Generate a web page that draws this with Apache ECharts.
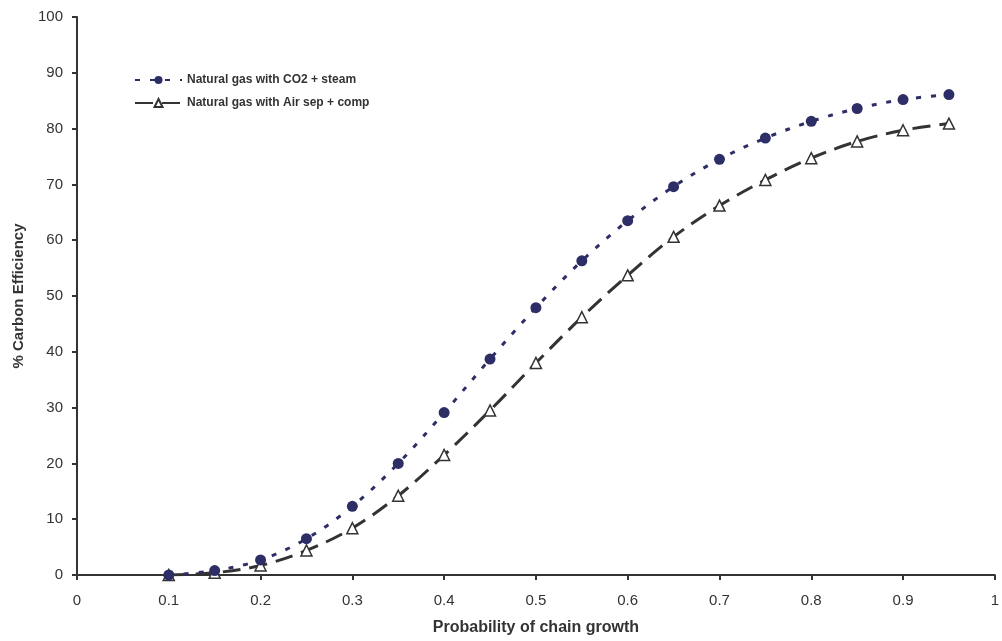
<!DOCTYPE html>
<html>
<head>
<meta charset="utf-8">
<script src="https://cdn.jsdelivr.net/npm/echarts@6/dist/echarts.min.js"></script>
<style>
  html, body { margin: 0; padding: 0; background: #fff; }
  #chart { width: 1002px; height: 641px; }
</style>
</head>
<body>
<div id="chart"></div>
<script>
// Chain growth probability (x) vs carbon efficiency (%)
const alpha = [0.1, 0.15, 0.2, 0.25, 0.3, 0.35, 0.4, 0.45, 0.5, 0.55, 0.6, 0.65, 0.7, 0.75, 0.8, 0.85, 0.9, 0.95];
const co2Steam = [0, 0.8, 2.7, 6.5, 12.3, 20.0, 29.1, 38.7, 47.9, 56.3, 63.5, 69.6, 74.5, 78.3, 81.3, 83.6, 85.2, 86.1];
const airSepComp = [0, 0.4, 1.7, 4.4, 8.4, 14.2, 21.5, 29.5, 38.0, 46.2, 53.7, 60.6, 66.2, 70.8, 74.7, 77.7, 79.7, 80.9];
const seriesNames = ['Natural gas with CO2 + steam', 'Natural gas with Air sep + comp'];

const pairs = (xs, ys) => xs.map((x, i) => [x, ys[i]]);
const FONT = '"Liberation Sans", Arial, Helvetica, sans-serif';
const AXIS = '#333333';

const chart = echarts.init(document.getElementById('chart'));
chart.setOption({
  animation: false,
  textStyle: { fontFamily: FONT },
  grid: { left: 77, right: 5, top: 17, bottom: 62, containLabel: false },
  legend: {
    left: 129, top: 69, orient: 'vertical', itemGap: 11,
    itemWidth: 47, itemHeight: 10,
    textStyle: { fontFamily: FONT, fontSize: 12, fontWeight: 'bold', color: '#333' },
    data: seriesNames
  },
  xAxis: {
    type: 'value', min: 0, max: 1, interval: 0.1,
    name: 'Probability of chain growth', nameLocation: 'middle', nameGap: 45,
    nameTextStyle: { fontFamily: FONT, fontSize: 16, fontWeight: 'bold', color: '#333' },
    axisLine: { show: true, lineStyle: { color: AXIS, width: 2 } },
    axisTick: { show: true, length: 5, lineStyle: { color: AXIS, width: 2 } },
    axisLabel: { fontSize: 15, color: '#333', margin: 18,
      formatter: v => String(parseFloat(v.toFixed(1))) },
    splitLine: { show: false }
  },
  yAxis: {
    type: 'value', min: 0, max: 100, interval: 10,
    name: '% Carbon Efficiency', nameLocation: 'middle', nameGap: 51, nameRotate: 90,
    nameTextStyle: { fontFamily: FONT, fontSize: 15, fontWeight: 'bold', color: '#333' },
    axisLine: { show: true, lineStyle: { color: AXIS, width: 2 } },
    axisTick: { show: true, length: 5, lineStyle: { color: AXIS, width: 2 } },
    axisLabel: { fontSize: 15, color: '#333', margin: 14 },
    splitLine: { show: false }
  },
  series: [
    {
      name: seriesNames[0], type: 'line', smooth: 0.35,
      data: pairs(alpha, co2Steam),
      symbol: 'circle', symbolSize: 11,
      itemStyle: { color: '#2e2e66' },
      lineStyle: { color: '#2e2e66', width: 3, type: [5, 10] },
      z: 3
    },
    {
      name: seriesNames[1], type: 'line', smooth: 0.35,
      data: pairs(alpha, airSepComp),
      symbol: 'triangle', symbolSize: 11,
      itemStyle: { color: '#ffffff', borderColor: '#333333', borderWidth: 1.5 },
      lineStyle: { color: '#333333', width: 3, type: [18, 9] },
      z: 2
    }
  ]
});
</script>
</body>
</html>
